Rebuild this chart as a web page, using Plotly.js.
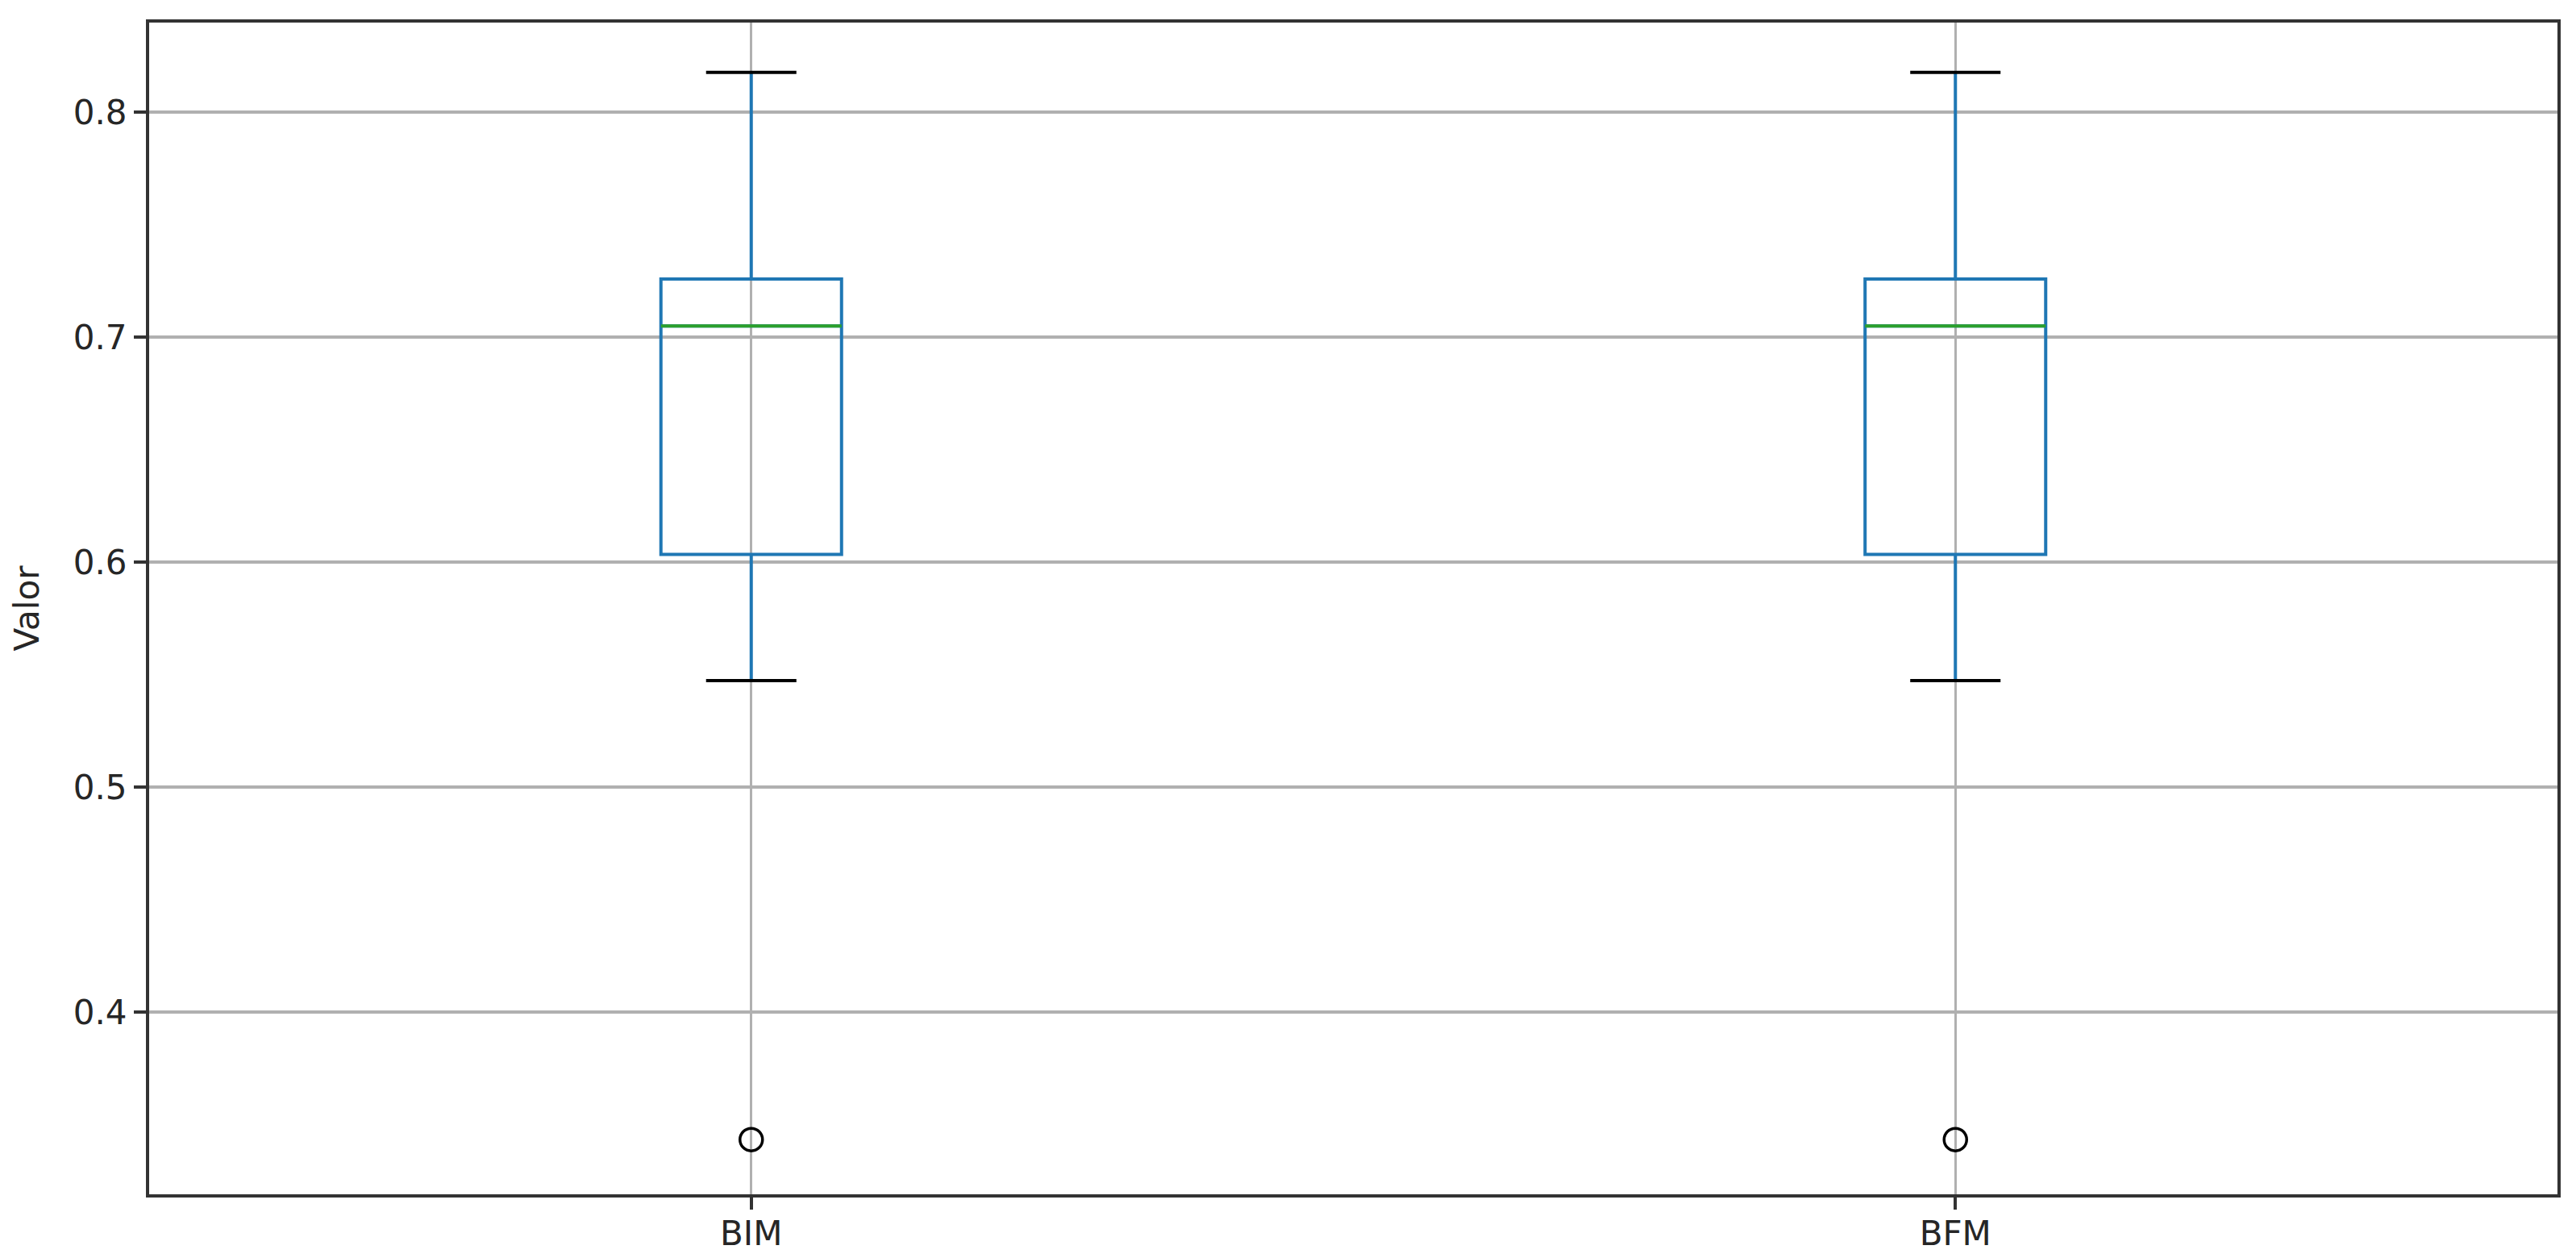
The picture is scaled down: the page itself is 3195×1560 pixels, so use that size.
<!DOCTYPE html>
<html>
<head>
<meta charset="utf-8">
<script src="https://cdn.plot.ly/plotly-3.0.1.min.js"></script>
<style>
  html, body { margin: 0; padding: 0; background: #ffffff; }
  #chart { width: 3195px; height: 1560px; }
</style>
</head>
<body>
<div id="chart"></div>
<script>
// ---- data ----
const categories = ['BIM', 'BFM'];
const lowerWhisker = [0.5473, 0.5473];
const q1 = [0.6034, 0.6034];
const median = [0.7049, 0.7049];
const q3 = [0.7258, 0.7258];
const upperWhisker = [0.8177, 0.8177];
const outliers = [[0.3433], [0.3433]];
const yTicks = [0.4, 0.5, 0.6, 0.7, 0.8];
const yTickLabels = ['0.4', '0.5', '0.6', '0.7', '0.8'];

// ---- styling ----
const positions = categories.map((c, i) => i + 1);
const boxWidth = 0.15;
const capWidth = boxWidth / 2;
const lw = 4;
const FONT = 'DejaVu Sans, Liberation Sans, sans-serif';

const traces = [];

traces.push({
  type: 'box',
  x: positions,
  q1: q1,
  median: median,
  q3: q3,
  lowerfence: lowerWhisker,
  upperfence: upperWhisker,
  width: boxWidth,
  whiskerwidth: 0,
  boxpoints: false,
  line: { color: '#1f77b4', width: lw },
  fillcolor: 'rgba(0,0,0,0)',
  hoverinfo: 'skip',
  showlegend: false
});

// median lines
const mx = [], my = [];
positions.forEach((p, i) => {
  mx.push(p - boxWidth / 2, p + boxWidth / 2, null);
  my.push(median[i], median[i], null);
});
traces.push({
  type: 'scatter', mode: 'lines', x: mx, y: my,
  line: { color: '#2ca02c', width: lw },
  hoverinfo: 'skip', showlegend: false
});

// whisker caps
const cx = [], cy = [];
positions.forEach((p, i) => {
  [lowerWhisker[i], upperWhisker[i]].forEach(v => {
    cx.push(p - capWidth / 2, p + capWidth / 2, null);
    cy.push(v, v, null);
  });
});
traces.push({
  type: 'scatter', mode: 'lines', x: cx, y: cy,
  line: { color: '#000000', width: lw },
  hoverinfo: 'skip', showlegend: false
});

// outliers
const ox = [], oy = [];
positions.forEach((p, i) => {
  outliers[i].forEach(v => { ox.push(p); oy.push(v); });
});
traces.push({
  type: 'scatter', mode: 'markers', x: ox, y: oy,
  marker: { symbol: 'circle-open', size: 28, color: '#000000', line: { width: 3.5, color: '#000000' } },
  hoverinfo: 'skip', showlegend: false
});

const layout = {
  width: 3195,
  height: 1560,
  paper_bgcolor: '#ffffff',
  plot_bgcolor: '#ffffff',
  margin: { l: 185, r: 23, t: 28, b: 79, pad: 0 },
  showlegend: false,
  font: { family: FONT, size: 42, color: '#262626' },
  xaxis: {
    range: [0.5, 2.5],
    tickmode: 'array',
    tickvals: positions,
    ticktext: categories,
    showgrid: true,
    gridcolor: '#b0b0b0',
    gridwidth: 3.3,
    zeroline: false,
    showline: true,
    mirror: true,
    linecolor: '#333333',
    linewidth: lw,
    ticks: 'outside',
    ticklen: 15,
    tickwidth: lw,
    tickcolor: '#333333',
    ticklabelstandoff: -6,
    tickfont: { family: FONT, size: 42, color: '#262626' },
    automargin: false
  },
  yaxis: {
    range: [0.319, 0.8398],
    tickmode: 'array',
    tickvals: yTicks,
    ticktext: yTickLabels,
    showgrid: true,
    gridcolor: '#b0b0b0',
    gridwidth: 3.3,
    zeroline: false,
    showline: true,
    mirror: true,
    linecolor: '#333333',
    linewidth: lw,
    ticks: 'outside',
    ticklen: 15,
    tickwidth: lw,
    tickcolor: '#333333',
    tickfont: { family: FONT, size: 42, color: '#262626' },
    title: { text: 'Valor', font: { family: FONT, size: 42, color: '#262626' }, standoff: 30 },
    automargin: false
  }
};

Plotly.newPlot('chart', traces, layout, { staticPlot: true, displayModeBar: false });
</script>
</body>
</html>
